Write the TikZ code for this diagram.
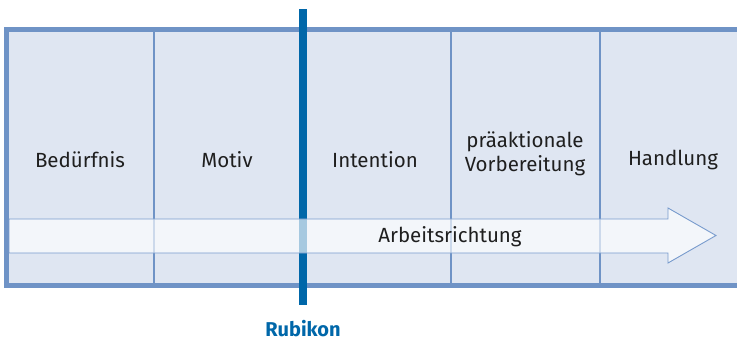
\documentclass[tikz,border=0pt]{standalone}
\usepackage{fontspec}
\setmainfont{Fira Sans}
\definecolor{boxfill}{RGB}{223,230,242}
\definecolor{boxline}{RGB}{111,147,198}
\definecolor{rubikon}{RGB}{0,103,169}
\definecolor{arrowline}{RGB}{120,155,205}
\begin{document}
\begin{tikzpicture}[x=1pt,y=-1pt,
  phase/.style={font=\fontsize{20.5}{24}\selectfont, align=center, text=black!88},
  divider/.style={draw=boxline, line width=1.5pt},
  flowarrow/.style={fill=white, fill opacity=0.65, draw=arrowline, line width=0.9pt}]
\useasboundingbox (0,0) rectangle (737,342);
\begin{scope}
\clip (0,0) rectangle (737,342);
% outer frame of the phase strip
\draw[fill=boxfill, draw=boxline, line width=5pt] (6.5,29.5) rectangle (760,285);
% column dividers
\foreach \x in {154,451,600} \draw[divider] (\x,29.5) -- (\x,285);
% Rubikon bar
\fill[rubikon] (298.5,9) rectangle (306.5,305);
% direction arrow
\path[flowarrow] (9,219) -- (668,219) -- (668,208) -- (716,235.5) -- (668,263) -- (668,253) -- (9,253) -- cycle;
\end{scope}
% phase labels
\node[phase] (p1) at (80,160) {Bedürfnis};
\node[phase] (p2) at (227,160) {Motiv};
\node[phase] (p3) at (375,160) {Intention};
\node[phase] (p4) at (525,154) {präaktionale\\Vorbereitung};
\node[phase] (p5) at (673,160) {Handlung};
\node[phase] (dir) at (450,237) {Arbeitsrichtung};
\node[font=\fontsize{20}{24}\selectfont\bfseries, text=rubikon, inner sep=0pt, anchor=base] (rk) at (303,336) {Rubikon};
\end{tikzpicture}
\end{document}
